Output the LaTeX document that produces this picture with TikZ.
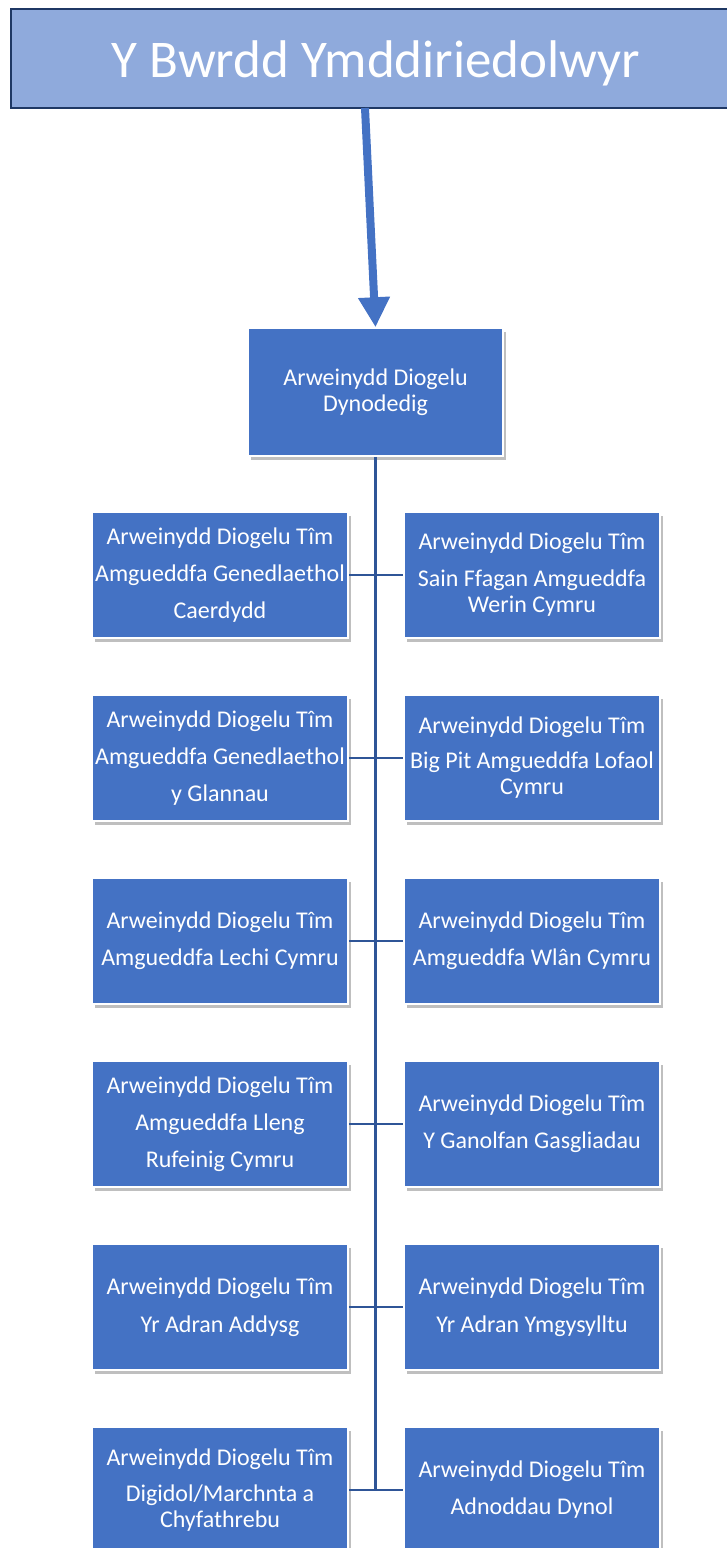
\documentclass[tikz,border=0pt]{standalone}
\usepackage{fontspec}
\setmainfont{Carlito}
\usetikzlibrary{arrows.meta,shadows}
\definecolor{boxblue}{HTML}{4472C4}
\definecolor{titlefill}{HTML}{8FAADC}
\definecolor{titledraw}{HTML}{1F3864}
\definecolor{linkblue}{HTML}{2F5597}
\tikzset{
  rolebox/.style={rectangle, fill=boxblue, draw=white, line width=1.5pt,
    minimum width=256pt, minimum height=126pt, inner sep=0pt,
    text=white, align=center, font=\fontsize{24}{26}\selectfont,
    drop shadow={shadow xshift=3pt, shadow yshift=-4pt, fill=black, opacity=.25}},
  titlebox/.style={rectangle, fill=titlefill, draw=titledraw, line width=2.5pt,
    minimum width=730pt, minimum height=99pt, inner sep=0pt,
    text height=37pt, text depth=0pt,
    text=white, font=\fontsize{53}{60}\selectfont},
  bigarrow/.style={draw=boxblue, line width=8pt, -{Triangle[width=30pt,length=30pt]}},
  link/.style={draw=linkblue, line width=2.5pt}
}
\begin{document}
\begin{tikzpicture}[x=1pt,y=-1pt]
\useasboundingbox (0,0) rectangle (727,1548);
\node[titlebox] (title) at (376,58.7) {Y Bwrdd Ymddiriedolwyr};
\node[rolebox, minimum width=255pt, minimum height=128pt] (mid) at (375.5,392) {Arweinydd Diogelu\\Dynodedig};
\coordinate (astart) at (365,108);
\draw[bigarrow] (astart) -- (mid.north);

\node[rolebox] (L1) at (220,575) {Arweinydd Diogelu Tîm\\[11pt]Amgueddfa Genedlaethol\\[11pt]Caerdydd};
\node[rolebox] (R1) at (532,575) {Arweinydd Diogelu Tîm\\[11pt]Sain Ffagan Amgueddfa\\Werin Cymru};
\node[rolebox] (L2) at (220,758) {Arweinydd Diogelu Tîm\\[11pt]Amgueddfa Genedlaethol\\[11pt]y Glannau};
\node[rolebox] (R2) at (532,758) {Arweinydd Diogelu Tîm\\[9pt]Big Pit Amgueddfa Lofaol\\Cymru};
\node[rolebox] (L3) at (220,941) {Arweinydd Diogelu Tîm\\[11pt]Amgueddfa Lechi Cymru};
\node[rolebox] (R3) at (532,941) {Arweinydd Diogelu Tîm\\[11pt]Amgueddfa Wlân Cymru};
\node[rolebox] (L4) at (220,1124) {Arweinydd Diogelu Tîm\\[11pt]Amgueddfa Lleng\\[11pt]Rufeinig Cymru};
\node[rolebox] (R4) at (532,1124) {Arweinydd Diogelu Tîm\\[11pt]Y Ganolfan Gasgliadau};
\node[rolebox] (L5) at (220,1307) {Arweinydd Diogelu Tîm\\[12pt]Yr Adran Addysg};
\node[rolebox] (R5) at (532,1307) {Arweinydd Diogelu Tîm\\[12pt]Yr Adran Ymgysylltu};
\node[rolebox] (L6) at (220,1490) {Arweinydd Diogelu Tîm\\[10pt]Digidol/Marchnta a\\Chyfathrebu};
\node[rolebox] (R6) at (532,1490) {Arweinydd Diogelu Tîm\\[11pt]Adnoddau Dynol};

\draw[link] (mid.south) -- (mid.south |- L6.east);
\foreach \r in {1,...,6} {
  \draw[link] (L\r.east) -- (R\r.west);
}
\end{tikzpicture}
\end{document}
